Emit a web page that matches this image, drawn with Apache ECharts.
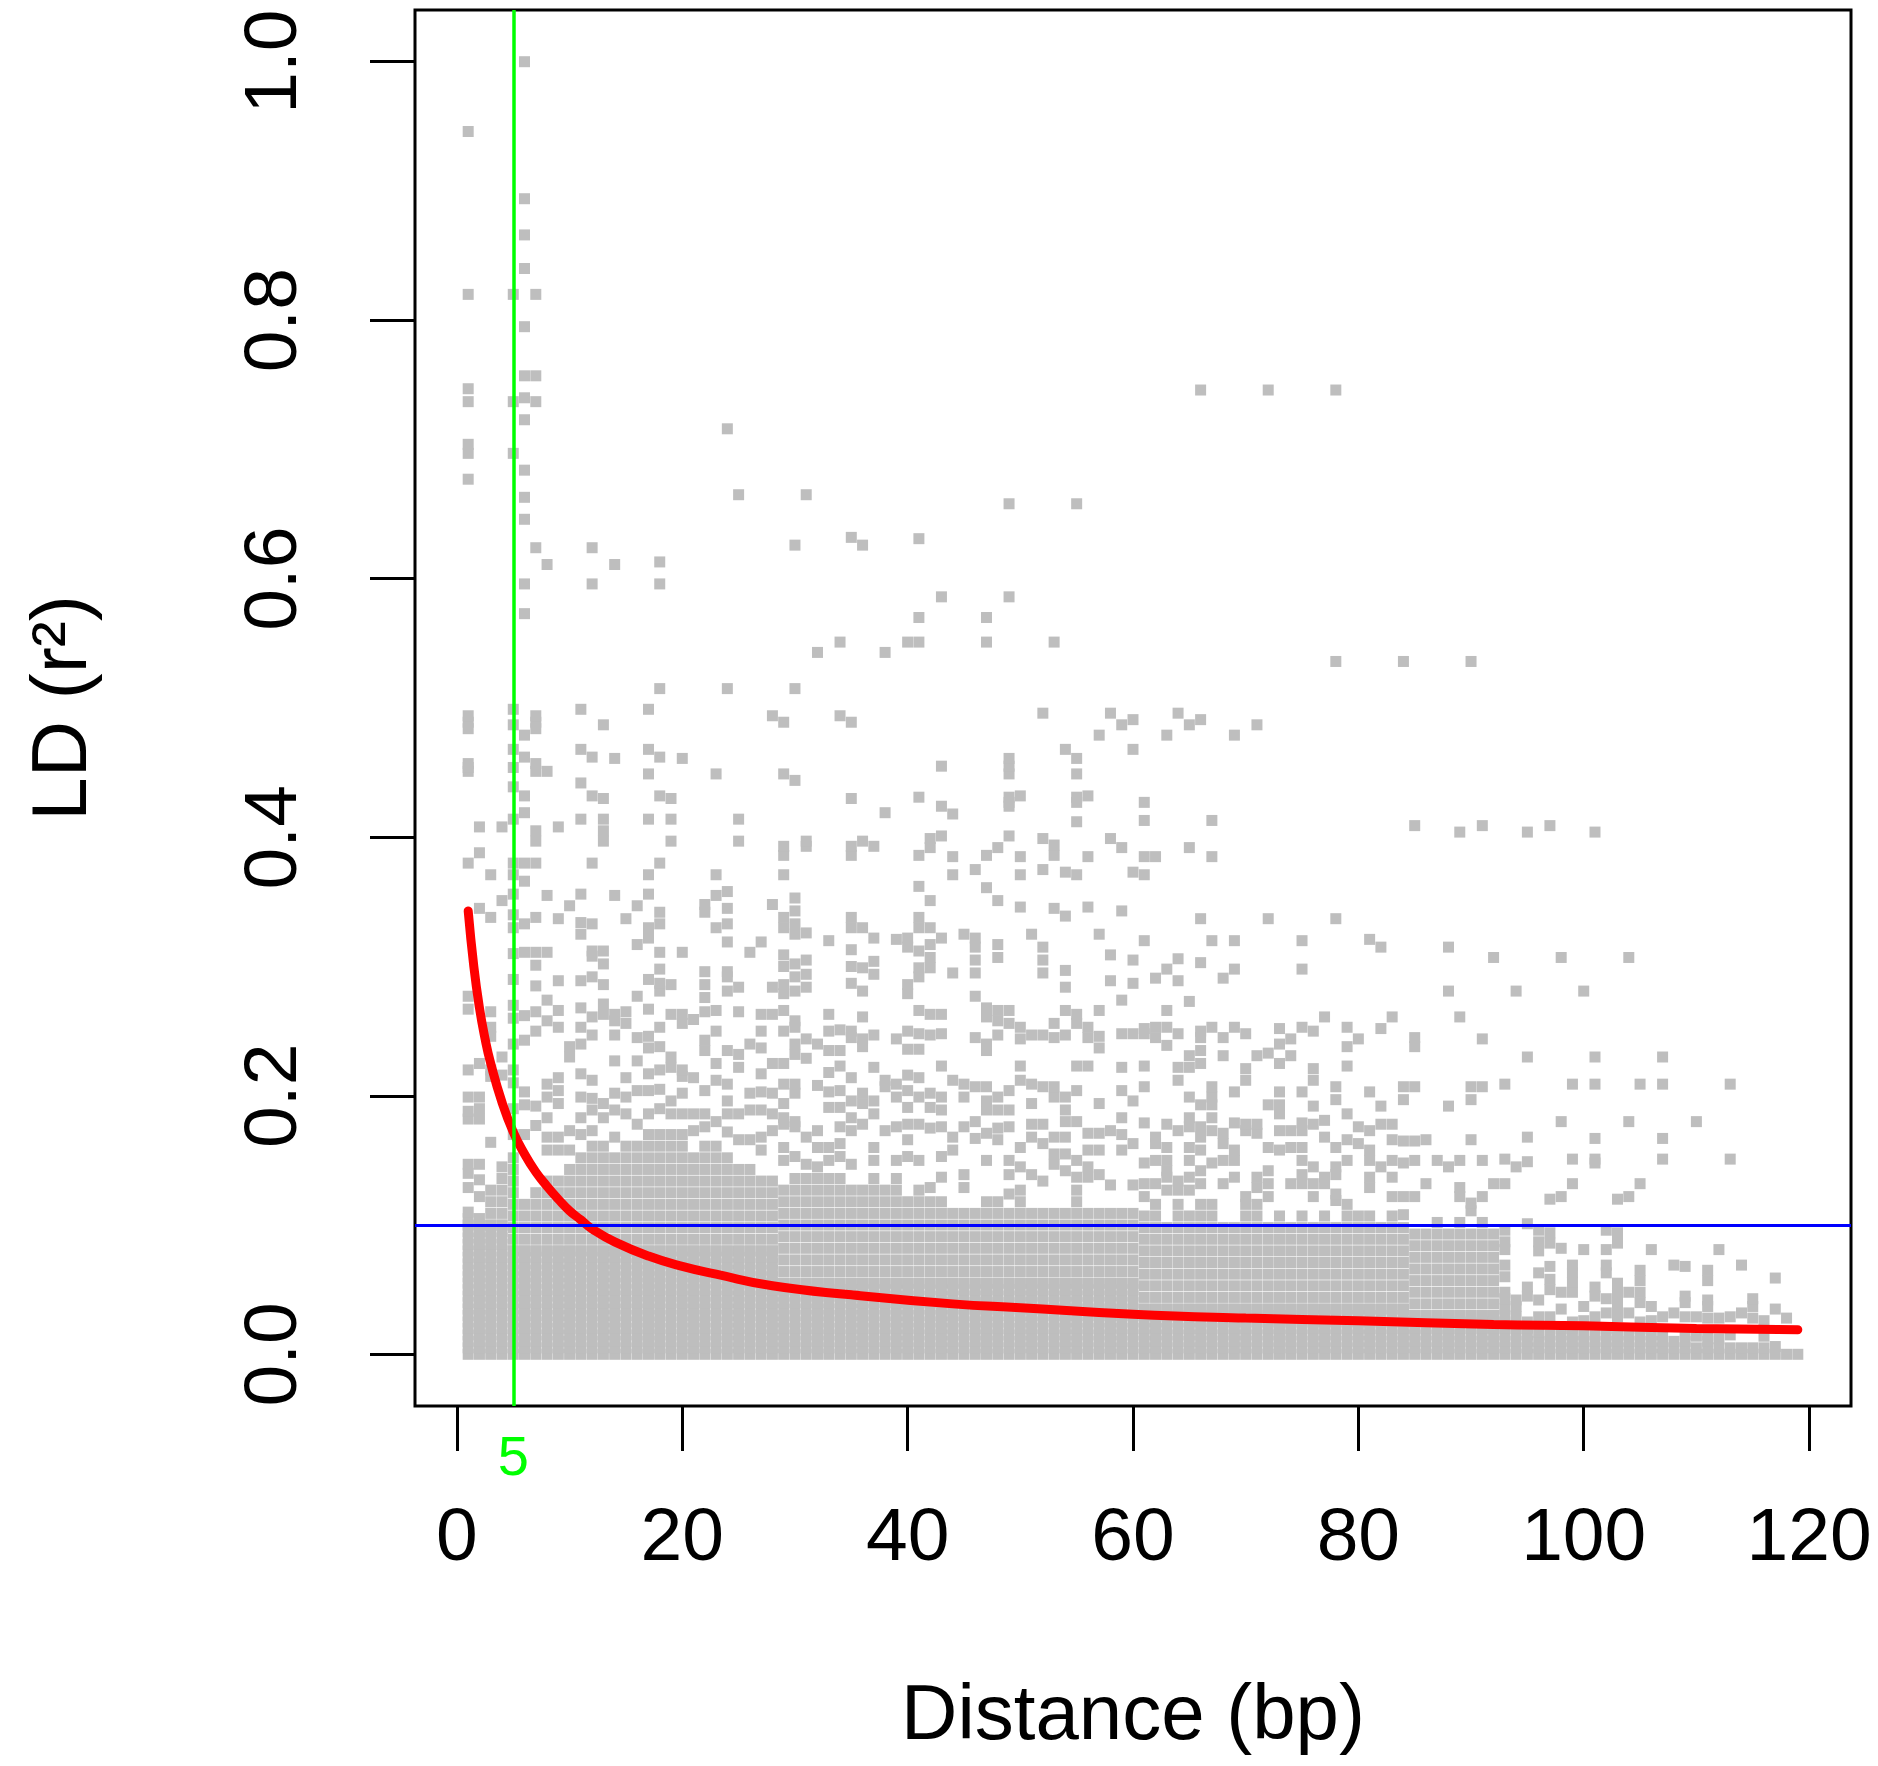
<!DOCTYPE html>
<html>
<head>
<meta charset="utf-8">
<title>LD decay</title>
<script src="https://cdn.jsdelivr.net/npm/echarts@6/dist/echarts.min.js"></script>
<style>
  html, body { margin: 0; padding: 0; background: #fff; }
  #main { width: 1878px; height: 1766px; }
</style>
</head>
<body>
<div id="main"></div>
<script>
// r2 values per distance, in thousandths.
// "a-b" = band of points filling a..b, "a:b" = looser band a..b, plain numbers = single points
const ldNear = [
  "1: 0-110 129 140 147 182 188 199 220 267 277 380 451 454 457 484 489 494 677 697 704 737 747 820 946",
  "2: 0-105 122 135 147 182 190 199 225 345 388 408",
  "3: 0-100 100:134 164 215 220 246 253 265 338 371",
  "4: 0-100 100:150 216 230 351 408",
  "5: 0-80 80:160 170 190 210 220 240 260 270 290 310 330 340 356 371 380 414 439 454 468 487 499 697 737 820",
  "6: 0-80 80:116 170 193 203 243 262 311 333 366 380 419 432 462 479 573 596 646 663 684 723 740 757 795 840 866 894 1000",
  "7: 0-80 80:132 177 192 250 265 285 301 311 338 380 397 405 451 457 484 489 494 624 737 757 820",
  "8: 0-80 80:137 158 168 183 199 209 258 274 311 355 451 611",
  "9: 0-80 80:137 158 168 194 204 214 253 266 289 337 408",
  "10: 0-80 80:150 158 173 230 238 347",
  "11: 0-80 80:160 170 183 199 217 240 253 268 289 325 334 356 414 442 468 499",
  "12: 0-80 80:163 173 189 198 212 247 261 292 308 312 333 380 432 462 596 624",
  "13: 0-80 80:163 183 194 263 271 286 302 312 397 405 414 430 487",
  "14: 0-80 80:158 168 189 202 227 247 258 263 355 461 611",
  "15: 0-80 80:168 186 199 214 256 265 337",
  "16: 0-80 80:168 178 204 227 245 277 317 347",
  "17: 0-80 80:173 186 204 217 237 246 267 290 322 330 356 371 414 449 468 499",
  "18: 0-80 80:173 190 205 220 238 253 281 287 298 311 333 342 380 432 462 515 596 613",
  "19: 0-80 80:178 186 196 222 230 263 286 397 414 430",
  "20: 0-80 80:170 186 202 215 220 256 263 311 461",
  "21: 0-80 80:158 173 186 214 259",
  "22: 0-80 80:163 176 186 204 235 243 265 276 286 296 342 348",
  "23: 0-80 80:163 180 212 225 250 266 330 355 371 449",
  "24: 0-80 80:153 172 186 196 209 235 281 292 296 319 333 345 358 515 716",
  "25: 0-80 80:150 166 186 222 232 265 284 397 414 665",
  "26: 0-80 80:145 166 189 202 240 311",
  "27: 0-80 80:140 158 168 189 203 217 237 250 263 319",
  "28: 0-80 80:140 173 186 202 225 263 284 348 494"
];

const ldMid = [
  "29: 0-55 55:132 150 160 178 183 194 209 225 250 266 279 286 300 309 330 338 371 386 393 449 489",
  "30: 0-55 55:143 153 176 180 202 209 232 240 253 258 281 292 302 325 333 343 353 444 515 626",
  "31: 0-55 55:137 147 168 229 244 284 294 305 326 393 397 665",
  "32: 0-55 55:137 145 160 173 208 240 543",
  "33: 0-55 55:140 150 160 191 203 218 235 250 263 320",
  "34: 0-55 55:143 153 163 176 191 204 223 235 251 494 551",
  "35: 0-55 55:132 147 173 183 196 214 245 250 287 300 313 330 338 386 393 430 489 632",
  "36: 0-55 55:129 178 194 202 238 244 261 281 299 330 397 626",
  "37: 0-55 55:137 150 160 186 196 222 247 294 304 322 393",
  "38: 0-55 55:134 173 207 212 419 543",
  "39: 0-55 55:137 150 176 199 209 244 321",
  "40: 0-55 55:119 153 166 178 191 204 216 236 250 279 286 315 322 551",
  "41: 0-55 55:129 150 178 199 214 236 248 266 292 299 312 330 338 362 386 431 551 570 631",
  "42: 0-55 55:119 129 175 191 202 247 263 299 307 317 330 351 392 399",
  "43: 0-55 55:119 137 153 176 189 199 223 248 263 322 401 424 455 586",
  "44: 0-55 55:117 158 168 212 295 371 385 418",
  "45: 0-55 55:117 129 139 176 199 209 325",
  "46: 0-55 55:117 167 180 207 245 277 295 305 315 322 375",
  "47: 0-55 55:122 150 171 189 196 207 235 240 261 268 361 386 551 570",
  "48: 0-55 55:124 166 175 189 199 247 258 266 307 317 351 392",
  "49: 0-55 55:117 124 139 150 176 189 204 256 266 401 424 427 431 449 455 461 586 658",
  "50: 0-55 55:132 145 160 212 223 244 253 346 371 385 432",
  "51: 0-55 55:117 139 168 178 194 209 247 325",
  "52: 0-55 55:117 134 163 178 207 247 295 305 315 375 399 496",
  "53: 0-55 55:117 147 155 168 199 207 245 256 345 386 394 551",
  "54: 0-55 55:117 142 155 168 180 189 199 247 266 284 297 339 373 468",
  "55: 0-55 55:127 137 150 180 204 223 256 263 371 412 427 431 449 461 658",
  "56: 0-55 55:117 137 145 158 171 223 245 253 346 385 432",
  "57: 0-55 55:109 139 158 171 194 237 246 266 325 479",
  "58: 0-55 55:117 131 173 289 309 399 496",
  "59: 0-55 55:117 158 170 183 204 222 248 274 343 392 487",
  "60: 0-55 55:117 131 163 196 248 287 305 373 468 491"
];

const ldFar = [
  "61: 0-35 35:112 122 132 148 179 207 223 248 252 320 371 385 413 427",
  "62: 0-35 35:117 132 150 163 168 245 253 291 385",
  "63: 0-35 35:106 127 137 142 150 160 178 239 253 266 298 479",
  "64: 0-35 35:122 127 134 173 212 222 248 289 306 496",
  "65: 0-35 35:112 127 137 150 160 176 183 199 222 231 273 392 487",
  "66: 0-35 35:122 132 142 158 168 176 193 225 235 245 250 303 337 491 746",
  "67: 0-35 35:122 148 173 183 193 199 207 253 320 385 413",
  "68: 0-35 35:106 132 150 163 171 231 245 291",
  "69: 0-35 35:106 137 150 158 179 203 253 298 320 479",
  "70: 0-35 35:117 122 173 178 212 221 248",
  "71: 0-35 35:117 129 137 171 178 231 487",
  "72: 0-35 35:106 122 132 142 160 193 233 337 746",
  "73: 0-35 35:109 158 173 186 193 203 225 240 252",
  "74: 0-35 35:106 132 160 173 231 244",
  "75: 0-35 35:109 132 139 150 160 173 179 203 253 298 320",
  "76: 0-35 35:106 122 132 145 178 192 212 221 250",
  "77: 0-35 35:109 132 137 168 181 261",
  "78: 0-35 35:106 119 124 139 145 160 197 207 337 536 746",
  "79: 0-35 35:117 150 166 186 223 238 253",
  "80: 0-35 35:109 163 176 244",
  "81: 0-35 35:109 129 137 150 158 173 203 321",
  "82: 0-35 35:106 145 178 192 252 315",
  "83: 0-35 35:109 122 137 150 166 178 261",
  "84: 0-35 35:98 108 122 148 165 197 207 536",
  "85: 0-30 30:95 122 150 165 207 238 245 409",
  "86: 0-30 30:95 132 166",
  "87: 0-30 30:106 150",
  "88: 0-30 30:95 145 192 281 315",
  "89: 0-30 30:106 122 129 150 261 404",
  "90: 0-30 30:98 111 117 166 197 207 536",
  "91: 0-30 30:106 122 150 207 244 409",
  "92: 0-30 30:101 132 307"
];

const ldTail = [
  "93: 0-37 43 48 60 69 81 87 96 132 151 209",
  "94: 0-21 29 37 42 145 281",
  "95: 0-29 45 52 101 149 168 230 404",
  "96: 0-10 17 29 42 63 80 87 96",
  "97: 0-16 29 50 58 68 86 94 120 409",
  "98: 0-21 35 48 82 122 180 307",
  "99: 0-29 48 56 63 69 132 151 209",
  "100: 0-19 26 37 81 281",
  "101: 0-19 29 45 52 148 151 167 209 230 404",
  "102: 0-21 32 43 63 69 81 96",
  "103: 0-19 29 35 42 48 55 86 94 120",
  "104: 0-19 32 48 122 180 307",
  "105: 0-29 40 48 57 65 132 209",
  "106: 0-19 26 37 81",
  "107: 0-19 29 151 167 209 230",
  "108: 0-11 32 69",
  "109: 0-19 29 40 45 68",
  "110: 0-6 14 29 180",
  "111: 0-19 28 37 42 57 65",
  "112: 0-6 12 28 81",
  "113: 0-6 15 29 151 209",
  "114: 0-6 32 69",
  "115: 0-6 28 37 43",
  "116: 0-5 14 26",
  "117: 0-4 6 35 59",
  "118: 0-2 28",
  "119: 0-2"
];

// fitted decay curve
const curveDist = [1, 1.5, 2, 2.5, 3, 4, 5, 6, 7, 8, 9, 10, 11, 12, 14, 17, 20, 23, 28, 35, 44, 50, 60, 70, 80, 92, 100, 110, 119];
const curveR2 = [0.343, 0.300, 0.268, 0.244, 0.225, 0.195, 0.172, 0.155, 0.141, 0.130, 0.120, 0.111, 0.104, 0.097, 0.087, 0.076, 0.068, 0.062, 0.053, 0.046, 0.039, 0.036, 0.031, 0.028, 0.026, 0.023, 0.022, 0.020, 0.019];

const xTicks = [0, 20, 40, 60, 80, 100, 120];
const yTicks = [0, 0.2, 0.4, 0.6, 0.8, 1.0];
const ldCutoff = 5;
const r2Threshold = 0.1;

function parseColumns(rows) {
  const pts = [];
  rows.forEach(function (row) {
    const parts = row.split(':');
    const d = Number(parts[0]);
    const tokens = parts.slice(1).join(':').trim().split(/\s+/);
    tokens.forEach(function (t) {
      let m;
      if ((m = t.match(/^(\d+)-(\d+)$/))) {
        for (let v = +m[1]; v <= +m[2]; v += 5) pts.push([d, v / 1000]);
      } else if ((m = t.match(/^(\d+):(\d+)$/))) {
        for (let v = +m[1]; v <= +m[2]; v += 9) pts.push([d, v / 1000]);
      } else if (t !== '') {
        pts.push([d, Number(t) / 1000]);
      }
    });
  });
  return pts;
}

const scatterData = parseColumns(ldNear.concat(ldMid, ldFar, ldTail));
const curveData = curveDist.map(function (d, i) { return [d, curveR2[i]]; });

const font = 'Liberation Sans, Arial, Helvetica, sans-serif';

const myChart = echarts.init(document.getElementById('main'));
const option = {
  animation: false,
  backgroundColor: '#ffffff',
  grid: {
    left: 415, right: 27, top: 10, bottom: 360,
    show: true, borderColor: '#000', borderWidth: 3, backgroundColor: 'transparent'
  },
  xAxis: {
    type: 'value',
    min: -3.72, max: 123.72,
    name: 'Distance (bp)',
    nameLocation: 'middle',
    nameGap: 272,
    nameTextStyle: { fontFamily: font, fontSize: 78, color: '#000' },
    axisLine: { show: false, onZero: false },
    splitLine: { show: false },
    axisTick: { show: true, inside: false, length: 45, lineStyle: { color: '#000', width: 3 }, customValues: xTicks },
    axisLabel: { show: true, margin: 96, fontFamily: font, fontSize: 75, color: '#000', customValues: xTicks }
  },
  yAxis: {
    type: 'value',
    min: -0.04, max: 1.04,
    name: 'LD (r²)',
    nameLocation: 'middle',
    nameRotate: 90,
    nameGap: 312,
    nameTextStyle: { fontFamily: font, fontSize: 78, color: '#000' },
    axisLine: { show: false, onZero: false },
    splitLine: { show: false },
    axisTick: { show: true, inside: false, length: 45, lineStyle: { color: '#000', width: 3 }, customValues: yTicks },
    axisLabel: {
      show: true, rotate: 90, margin: 102, fontFamily: font, fontSize: 75, color: '#000',
      customValues: yTicks,
      formatter: function (v) { return v.toFixed(1); }
    }
  },
  series: [
    {
      name: 'LD',
      type: 'scatter',
      data: scatterData,
      symbol: 'rect',
      symbolSize: [11, 11],
      itemStyle: { color: '#bebebe', opacity: 1 },
      emphasis: { disabled: true },
      z: 2
    },
    {
      name: 'guides',
      type: 'line',
      data: [],
      z: 3,
      markLine: {
        silent: true,
        symbol: 'none',
        animation: false,
        data: [
          {
            xAxis: ldCutoff,
            lineStyle: { color: '#00ff00', width: 3.5, type: 'solid' },
            label: {
              show: true, position: 'start', formatter: String(ldCutoff),
              color: '#00ff00', fontFamily: font, fontSize: 56, distance: 26
            }
          },
          {
            yAxis: r2Threshold,
            lineStyle: { color: '#0000ff', width: 3, type: 'solid' },
            label: { show: false }
          }
        ]
      }
    },
    {
      name: 'fit',
      type: 'line',
      data: curveData,
      smooth: 0.5,
      showSymbol: false,
      symbol: 'none',
      lineStyle: { color: '#ff0000', width: 9, cap: 'round' },
      emphasis: { disabled: true },
      z: 4
    }
  ]
};
myChart.setOption(option);
</script>
</body>
</html>
